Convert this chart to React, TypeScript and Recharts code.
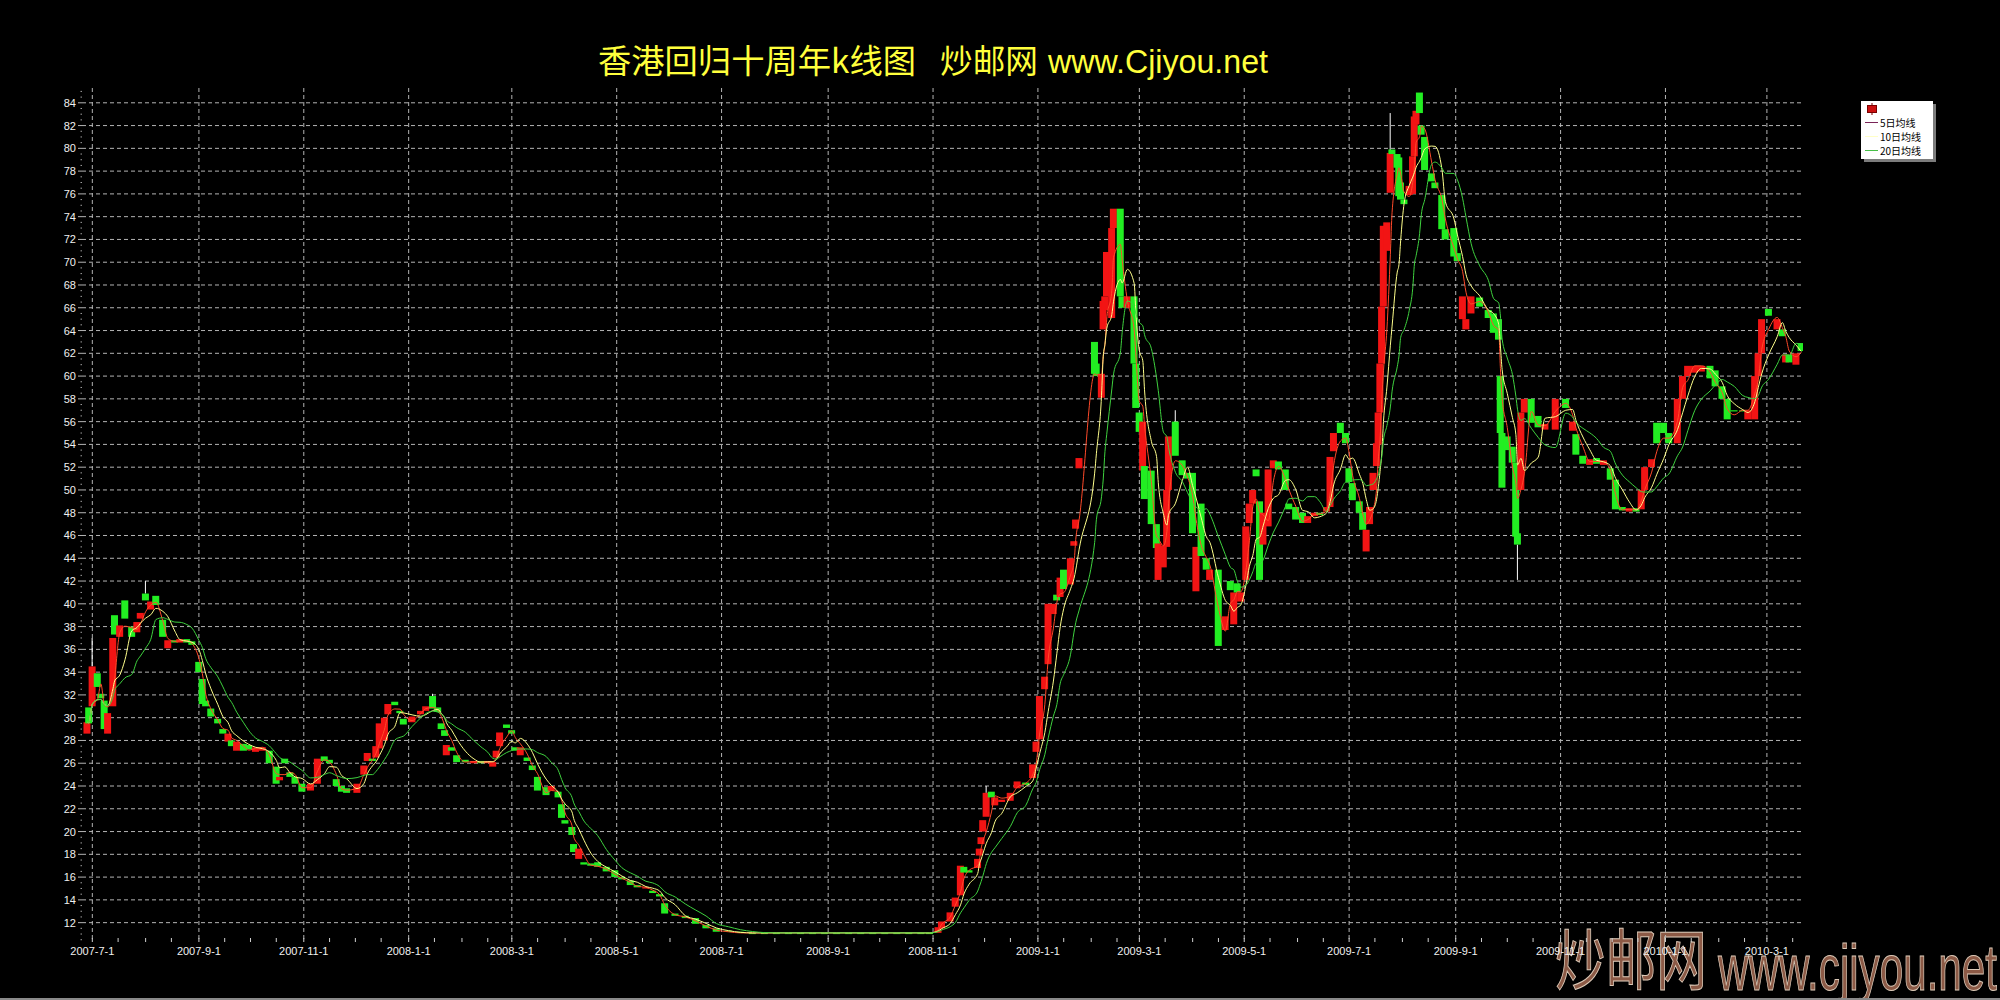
import React from 'react';
import { ComposedChart, Bar, Line, XAxis, YAxis, CartesianGrid } from 'recharts';

// ---------- data ----------
const dates: string[] = [
  // 2007-06/07
  '2007-06-28','2007-06-29','2007-07-01','2007-07-04','2007-07-06','2007-07-08','2007-07-10','2007-07-13','2007-07-14','2007-07-17','2007-07-20','2007-07-24','2007-07-27','2007-07-29',
  // 2007-08
  '2007-08-01','2007-08-04','2007-08-07','2007-08-11','2007-08-14','2007-08-18','2007-08-21','2007-08-25','2007-08-28',
  // 2007-09
  '2007-09-01','2007-09-03','2007-09-05','2007-09-08','2007-09-12','2007-09-15','2007-09-18','2007-09-20','2007-09-23','2007-09-27','2007-09-30',
  // 2007-10
  '2007-10-04','2007-10-08','2007-10-12','2007-10-16','2007-10-18','2007-10-21','2007-10-24','2007-10-27','2007-10-31',
  // 2007-11
  '2007-11-05','2007-11-09','2007-11-13','2007-11-16','2007-11-20','2007-11-23','2007-11-26',
  // 2007-12
  '2007-12-02','2007-12-06','2007-12-08','2007-12-11','2007-12-13','2007-12-15','2007-12-18','2007-12-20','2007-12-24','2007-12-27','2007-12-29',
  // 2008-01
  '2008-01-03','2008-01-08','2008-01-11','2008-01-15','2008-01-18','2008-01-20','2008-01-22','2008-01-23','2008-01-26','2008-01-29',
  // 2008-02
  '2008-02-03','2008-02-08','2008-02-12','2008-02-16','2008-02-19','2008-02-21','2008-02-23','2008-02-27',
  // 2008-03
  '2008-03-01','2008-03-03','2008-03-06','2008-03-10','2008-03-13','2008-03-16','2008-03-21','2008-03-24','2008-03-28','2008-03-30',
  // 2008-04
  '2008-04-01','2008-04-05','2008-04-06','2008-04-09','2008-04-12','2008-04-16','2008-04-20','2008-04-25','2008-04-30',
  // 2008-05
  '2008-05-04','2008-05-09','2008-05-13','2008-05-18','2008-05-22','2008-05-26','2008-05-29',
  // 2008-06
  '2008-06-04','2008-06-10','2008-06-16','2008-06-22','2008-06-28',
  // 2008-07
  '2008-07-05','2008-07-12','2008-07-19','2008-07-26',
  // 2008-08
  '2008-08-02','2008-08-09','2008-08-16','2008-08-23','2008-08-30',
  // 2008-09
  '2008-09-06','2008-09-13','2008-09-20','2008-09-27',
  // 2008-10
  '2008-10-04','2008-10-11','2008-10-18','2008-10-25','2008-10-30',
  // 2008-11
  '2008-11-04','2008-11-06','2008-11-11','2008-11-14','2008-11-17','2008-11-19','2008-11-22','2008-11-27','2008-11-28','2008-11-29','2008-11-30',
  // 2008-12
  '2008-12-02','2008-12-05','2008-12-07','2008-12-11','2008-12-16','2008-12-20','2008-12-25','2008-12-29','2008-12-31',
  // 2009-01
  '2009-01-02','2009-01-05','2009-01-07','2009-01-10','2009-01-12','2009-01-14','2009-01-16','2009-01-20','2009-01-22','2009-01-23','2009-01-25',
  // 2009-02
  '2009-02-03','2009-02-04','2009-02-07','2009-02-08','2009-02-09','2009-02-10','2009-02-13','2009-02-14','2009-02-18','2009-02-19','2009-02-22','2009-02-26','2009-02-27',
  // 2009-03
  '2009-03-01','2009-03-03','2009-03-04','2009-03-08','2009-03-11','2009-03-12','2009-03-15','2009-03-17','2009-03-18','2009-03-22','2009-03-26','2009-03-29',
  // 2009-04
  '2009-04-01','2009-04-03','2009-04-06','2009-04-09','2009-04-11','2009-04-16','2009-04-20','2009-04-23','2009-04-25','2009-04-27','2009-04-29',
  // 2009-05
  '2009-05-02','2009-05-04','2009-05-06','2009-05-08','2009-05-10','2009-05-12','2009-05-15','2009-05-18','2009-05-21','2009-05-25','2009-05-27','2009-05-31',
  // 2009-06
  '2009-06-04','2009-06-07','2009-06-11','2009-06-14','2009-06-18','2009-06-20','2009-06-22','2009-06-26','2009-06-29',
  // 2009-07
  '2009-07-01','2009-07-03','2009-07-07','2009-07-09','2009-07-11','2009-07-13','2009-07-15','2009-07-17','2009-07-18','2009-07-19','2009-07-20','2009-07-21','2009-07-23','2009-07-25','2009-07-26','2009-07-29','2009-07-30','2009-07-31',
  // 2009-08
  '2009-08-02','2009-08-05','2009-08-07','2009-08-08','2009-08-09','2009-08-11','2009-08-12','2009-08-14','2009-08-18','2009-08-20','2009-08-24','2009-08-26','2009-08-31',
  // 2009-09
  '2009-09-02','2009-09-05','2009-09-07','2009-09-10','2009-09-15','2009-09-20','2009-09-23','2009-09-26','2009-09-27','2009-09-28',
  // 2009-10
  '2009-10-01','2009-10-04','2009-10-06','2009-10-07','2009-10-09','2009-10-11','2009-10-15','2009-10-19','2009-10-23','2009-10-29',
  // 2009-11
  '2009-11-04','2009-11-08','2009-11-10','2009-11-14','2009-11-18','2009-11-22','2009-11-26','2009-11-30',
  // 2009-12
  '2009-12-03','2009-12-07','2009-12-11','2009-12-15','2009-12-18','2009-12-20','2009-12-24','2009-12-27','2009-12-31',
  // 2010-01
  '2010-01-03','2010-01-08','2010-01-11','2010-01-14','2010-01-18','2010-01-22','2010-01-27','2010-01-30',
  // 2010-02
  '2010-02-03','2010-02-06','2010-02-10','2010-02-15','2010-02-18','2010-02-22','2010-02-24','2010-02-26',
  // 2010-03
  '2010-03-02','2010-03-07','2010-03-10','2010-03-12','2010-03-14','2010-03-18','2010-03-21',
];

const opens: number[] = [
  28.6,30.9,31.0,33.9,32.1,31.5,28.6,31.0,39.0,37.1,40.3,38.0,37.5,38.7,
  40.9,39.5,40.7,38.6,36.1,36.8,36.6,36.9,36.7,
  34.9,33.4,31.5,30.8,29.9,29.0,27.9,28.0,27.1,27.7,27.6,
  27.0,27.1,27.1,25.7,24.5,26.4,25.2,24.8,24.2,
  23.6,24.2,26.6,26.3,24.6,24.0,23.8,
  23.4,25.0,26.2,26.4,26.5,27.3,28.0,30.3,31.4,30.6,29.9,
  29.6,30.3,30.6,31.9,30.9,29.5,28.9,26.7,27.4,26.7,
  26.3,26.0,26.2,26.0,25.7,26.5,27.5,29.4,
  28.9,27.4,26.7,26.5,25.8,24.8,23.9,23.6,23.5,22.4,
  21.0,20.4,18.9,17.6,17.3,17.2,17.3,16.9,16.6,
  16.0,15.7,15.3,15.0,14.8,14.5,13.7,
  12.8,12.6,12.4,11.8,11.5,
  11.3,11.2,11.1,11.1,
  11.1,11.1,11.1,11.1,11.1,
  11.1,11.1,11.1,11.1,
  11.1,11.1,11.1,11.1,11.1,
  11.1,11.5,12.1,13.4,14.4,16.9,16.6,16.8,17.9,18.9,20.0,
  21.3,23.5,22.3,22.6,22.7,23.8,24.3,24.7,27.0,
  28.1,32.5,34.7,39.1,40.8,40.6,43.0,41.7,45.1,46.6,51.9,
  63.0,61.1,58.1,64.1,65.8,67.0,65.1,73.0,74.7,67.0,66.0,67.0,61.1,
  56.8,51.7,52.1,51.7,47.0,42.1,43.2,45.0,50.0,56.0,52.6,51.5,
  51.5,41.1,48.8,44.0,42.1,43.0,37.7,42.0,38.2,41.8,40.2,
  42.1,47.1,48.8,51.8,49.0,45.2,46.8,51.9,52.5,51.8,48.8,48.5,
  48.0,47.1,47.7,48.0,48.1,48.5,53.4,55.9,55.0,
  51.9,50.6,49.0,48.0,44.6,47.0,50.0,52.1,54.0,56.8,61.1,66.1,71.0,76.1,79.9,79.5,79.2,77.0,
  75.5,75.9,76.0,79.3,82.1,84.9,82.0,81.0,77.8,77.0,75.9,72.9,73.0,
  70.8,65.0,64.1,65.5,66.9,65.8,65.5,65.0,60.0,55.0,
  54.7,53.8,52.4,46.2,50.0,56.8,58.0,56.5,55.3,55.3,
  58.0,55.2,54.9,53.0,52.2,52.8,52.2,51.9,
  50.9,48.5,48.1,48.4,48.3,50.0,52.0,55.9,55.9,
  55.0,54.1,58.0,60.0,60.3,60.4,60.9,60.5,
  59.1,58.0,57.0,57.0,56.2,56.2,60.0,62.0,
  65.9,64.1,64.1,61.2,61.9,61.0,62.9,
];

const closes: number[] = [
  29.6,29.5,34.5,32.7,31.7,29.0,30.4,37.0,37.3,38.1,38.7,37.1,38.4,39.2,
  40.3,40.2,39.9,37.1,36.8,36.6,36.9,36.6,36.4,
  34.0,31.2,31.0,30.1,29.5,28.6,28.6,27.5,27.9,27.1,27.2,
  27.4,27.4,26.0,24.2,24.8,26.0,24.8,24.2,23.5,
  24.2,26.4,26.2,26.0,24.0,23.5,23.4,
  24.2,25.8,26.9,26.2,27.5,29.5,30.0,31.2,31.1,30.4,29.4,
  30.1,30.6,31.0,30.8,30.5,29.0,28.4,27.6,27.1,26.1,
  26.1,26.2,26.0,26.2,26.1,27.1,28.7,29.1,
  28.6,27.1,27.4,26.2,25.4,23.6,23.2,24.0,23.0,21.2,
  20.7,19.7,18.2,18.5,17.1,17.0,16.9,16.5,16.0,
  15.8,15.3,15.1,15.1,14.6,14.3,12.8,
  12.6,12.4,11.9,11.5,11.2,
  11.2,11.1,11.1,11.1,
  11.1,11.1,11.1,11.1,11.1,
  11.1,11.1,11.1,11.1,
  11.1,11.1,11.1,11.1,11.1,
  11.6,12.1,12.9,14.2,17.0,16.4,16.4,17.6,18.5,19.5,21.0,
  23.4,23.0,23.0,22.8,23.4,24.4,24.1,25.9,27.9,
  31.9,33.6,40.0,40.0,40.3,42.3,41.3,44.0,45.5,47.4,52.8,
  60.2,60.0,60.2,66.6,67.0,70.9,73.0,74.7,67.0,66.0,67.0,61.1,57.2,
  55.1,56.0,49.2,47.0,44.9,45.3,45.1,50.0,54.7,53.0,51.3,51.0,
  46.2,45.0,44.2,43.0,43.0,36.3,38.9,41.2,41.0,41.0,41.0,
  46.8,48.8,50.0,51.2,42.1,48.0,51.8,52.6,51.8,50.0,48.3,47.4,
  47.1,47.7,48.0,47.8,48.5,52.9,55.0,55.0,54.1,
  50.7,49.1,48.0,46.5,46.5,48.5,51.5,54.1,56.8,61.1,66.1,73.2,73.5,79.6,79.5,78.3,75.8,75.5,
  75.1,76.7,79.3,82.8,83.3,83.1,81.2,78.1,77.1,76.5,72.9,72.0,70.5,
  70.1,67.0,65.0,67.0,66.1,65.1,63.8,63.2,55.0,50.2,
  53.5,52.4,45.9,45.2,56.8,58.0,55.9,55.5,55.8,58.0,
  57.2,56.0,53.1,52.3,52.7,52.3,52.6,50.9,
  48.3,48.2,48.4,48.1,50.0,52.0,52.7,54.1,55.0,
  54.1,58.0,60.0,60.9,60.9,60.9,59.8,59.1,
  58.0,56.2,57.0,57.0,57.0,60.0,62.0,65.0,
  65.3,65.0,63.5,61.9,61.2,62.0,62.2,
];

const wickHighDates = ['2007-07-01', '2007-08-01', '2008-01-15', '2008-12-02', '2009-03-22', '2009-07-25'];
const wickHighValues = [37.0, 42.0, 32.1, 24.0, 57.0, 83.1];
const wickLowDates = ['2009-10-07'];
const wickLowValues = [42.1];

const xTickLabels = [
  '2007-7-1','2007-9-1','2007-11-1','2008-1-1','2008-3-1','2008-5-1','2008-7-1','2008-9-1','2008-11-1',
  '2009-1-1','2009-3-1','2009-5-1','2009-7-1','2009-9-1','2009-11-1','2010-1-1','2010-3-1',
];
const yTickLabels = [12,14,16,18,20,22,24,26,28,30,32,34,36,38,40,42,44,46,48,50,52,54,56,58,60,62,64,66,68,70,72,74,76,78,80,82,84];

const seriesNames = ['5日均线', '10日均线', '20日均线'];
const maWindowDays = [7, 14, 28]; // 5 / 10 / 20 trading days expressed in calendar days

// ---------- styles ----------
const RED = '#f21414';
const GREEN = '#22ee22';
const MA_COLORS = ['#ff4a2a', '#ffff8c', '#3fd23f'];
const LEGEND_COLORS = ['#7a2458', '#ffffc8', '#48c048'];
const GRID = '#b4b4b4';
const LATIN = "'Liberation Sans', Arial, sans-serif";
const CJK = "'Noto Sans CJK SC', 'Noto Sans', sans-serif";

const toDay = (s: string) => {
  const [y, m, d] = s.split('-').map(Number);
  return Date.UTC(y, m - 1, d) / 86400000;
};

const n = Math.min(dates.length, opens.length, closes.length);
const rows: any[] = [];
for (let i = 0; i < n; i++) {
  const o = opens[i];
  const c = closes[i];
  let hi = Math.max(o, c);
  let lo = Math.min(o, c);
  const wh = wickHighDates.indexOf(dates[i]);
  if (wh >= 0) hi = Math.max(hi, wickHighValues[wh]);
  const wl = wickLowDates.indexOf(dates[i]);
  if (wl >= 0) lo = Math.min(lo, wickLowValues[wl]);
  rows.push({ t: toDay(dates[i]), o, c, hi, lo, range: [lo - 0.05, hi + 0.05] });
}
const maKeys = ['ma5', 'ma10', 'ma20'];
rows.forEach((r, i) => {
  maWindowDays.forEach((w, k) => {
    let s = 0;
    let cnt = 0;
    for (let j = i; j >= 0 && rows[j].t > r.t - w; j--) {
      s += rows[j].c;
      cnt++;
    }
    r[maKeys[k]] = s / cnt;
  });
});

const domainStart = toDay('2007-06-25');
const domainEnd = toDay('2010-03-22');
const yDomain: [number, number] = [10.3, 85.3];

const labelByDay: Record<number, string> = {};
xTickLabels.forEach((l) => {
  labelByDay[toDay(l)] = l;
});
const labeledTicks = Object.keys(labelByDay).map(Number).sort((a, b) => a - b);
const minorTicks: number[] = [];
for (let y = 2007; y <= 2010; y++) {
  for (let m = 1; m <= 12; m++) {
    [1, 16].forEach((d) => {
      const t = Date.UTC(y, m - 1, d) / 86400000;
      if (t >= toDay('2007-07-01') && t <= toDay('2010-03-16')) minorTicks.push(t);
    });
  }
}
const halfTicks: number[] = [];
for (let v = 10.5; v <= 85.01; v += 0.5) halfTicks.push(Math.round(v * 10) / 10);

// grid line positions come from the axes' own scales
const verticalGen = (p: any) => {
  const sc = p && p.xAxis && p.xAxis.scale;
  if (typeof sc === 'function') return labeledTicks.map((t) => sc(t));
  const o = p.offset;
  return labeledTicks.map((t) => o.left + ((t - domainStart) / (domainEnd - domainStart)) * o.width);
};
const horizontalGen = (p: any) => {
  const sc = p && p.yAxis && p.yAxis.scale;
  if (typeof sc === 'function') return yTickLabels.map((v) => sc(v));
  const o = p.offset;
  return yTickLabels.map((v) => o.top + ((yDomain[1] - v) / (yDomain[1] - yDomain[0])) * o.height);
};

// ---------- renderers ----------
const Candle = (props: any) => {
  const { x, y, width, height, payload } = props;
  if (x == null || y == null || !payload) return null;
  const [rLo, rHi] = payload.range;
  const top = Math.min(y, y + height);
  const h = Math.abs(height);
  const py = (v: number) => top + ((rHi - v) / (rHi - rLo)) * h;
  const cx = x + width / 2;
  const up = payload.c > payload.o;
  const bTop = py(Math.max(payload.o, payload.c));
  const bBot = py(Math.min(payload.o, payload.c));
  const bh = Math.max(1.2, bBot - bTop);
  const color = up ? RED : GREEN;
  return (
    <g>
      {payload.hi > Math.max(payload.o, payload.c) + 0.01 && (
        <line x1={cx} x2={cx} y1={py(payload.hi)} y2={bTop} stroke="#ffffff" strokeWidth={1} />
      )}
      {payload.lo < Math.min(payload.o, payload.c) - 0.01 && (
        <line x1={cx} x2={cx} y1={bBot} y2={py(payload.lo)} stroke="#ffffff" strokeWidth={1} />
      )}
      <rect x={cx - 3.5} y={bTop} width={7} height={bh} fill={color} />
    </g>
  );
};

const XTick = (props: any) => {
  const { x, y, payload } = props;
  const label = labelByDay[payload.value];
  return (
    <g>
      <line x1={x} x2={x} y1={y - 4} y2={y} stroke="#d0d0d0" strokeWidth={1} />
      {label && (
        <text x={x} y={y + 13} textAnchor="middle" fill="#f0f0f0" fontSize={11} fontFamily={LATIN}>
          {label}
        </text>
      )}
    </g>
  );
};

const YTick = (props: any) => {
  const { x, y, payload } = props;
  const v = payload.value;
  if (yTickLabels.indexOf(v) >= 0) {
    return (
      <g>
        <line x1={x - 4} x2={x} y1={y} y2={y} stroke={GRID} strokeWidth={1} />
        <text x={x - 6} y={y + 4} textAnchor="end" fill="#f0f0f0" fontSize={11} fontFamily={LATIN}>
          {v}
        </text>
      </g>
    );
  }
  return <line x1={x - 1.5} x2={x} y1={y} y2={y} stroke="#a0a0a0" strokeWidth={1} />;
};

const LegendBox = () => (
  <svg width={78} height={64} style={{ position: 'absolute', left: 1861, top: 101 }}>
    <rect x={3} y={3} width={72} height={58} fill="#7c7c7c" />
    <rect x={0} y={0} width={72} height={58} fill="#ffffff" />
    <line x1={11} x2={11} y1={2} y2={14} stroke="#7a0000" strokeWidth={1} />
    <rect x={6.5} y={4.5} width={9} height={7} fill="#cc1010" stroke="#7a0000" strokeWidth={1} />
    {seriesNames.map((name, i) => (
      <g key={name}>
        <line x1={4} x2={17} y1={21.5 + i * 14} y2={21.5 + i * 14} stroke={LEGEND_COLORS[i]} strokeWidth={1} />
        <text x={19} y={25.5 + i * 14} fontSize={10} fontFamily={CJK} fill="#000000">
          {name}
        </text>
      </g>
    ))}
  </svg>
);

export default function App() {
  return (
    <div style={{ position: 'absolute', left: 0, top: 0, width: 2000, height: 1000, background: '#000', overflow: 'hidden' }}>
      {/* watermark (below chart) */}
      <svg width={2000} height={1000} style={{ position: 'absolute', left: 0, top: 0 }}>
        <text x={1555} y={984} fontFamily={CJK} fontSize={66} textLength={152} lengthAdjust="spacingAndGlyphs"
          fill="#8c5a46" stroke="#dccab8" strokeWidth={1}>炒邮网</text>
        <text x={1718} y={990} fontFamily={LATIN} fontSize={64} textLength={279} lengthAdjust="spacingAndGlyphs"
          fill="#8c5a46" stroke="#dccab8" strokeWidth={1}>www.cjiyou.net</text>
      </svg>
      <div style={{ position: 'absolute', left: 0, top: 0 }}>
        <ComposedChart width={2000} height={1000} data={rows} margin={{ top: 88, right: 197, bottom: 28, left: 0 }}>
          <XAxis dataKey="t" type="number" domain={[domainStart, domainEnd]} allowDataOverflow
            ticks={minorTicks} interval={0} tick={(p: any) => <XTick {...p} />} tickLine={false} axisLine={false}
            tickSize={0} tickMargin={0} height={30} />
          <YAxis type="number" domain={yDomain} allowDataOverflow ticks={halfTicks} interval={0}
            tick={(p: any) => <YTick {...p} />} tickLine={false} axisLine={false} tickSize={0} tickMargin={0} width={82} />
          <CartesianGrid stroke={GRID} strokeDasharray="4 3"
            verticalCoordinatesGenerator={verticalGen} horizontalCoordinatesGenerator={horizontalGen} />
          <Bar dataKey="range" isAnimationActive={false} shape={(p: any) => <Candle {...p} />} />
          {maKeys.map((k, i) => (
            <Line key={k} dataKey={k} name={seriesNames[i]} type="monotone"
              stroke={MA_COLORS[i]} strokeWidth={1} dot={false} activeDot={false} isAnimationActive={false} />
          ))}
        </ComposedChart>
      </div>
      {/* title */}
      <svg width={2000} height={100} style={{ position: 'absolute', left: 0, top: 0 }}>
        <text x={598} y={73} fontFamily={CJK} fontSize={33} fill="#ffff3c" textLength={318} lengthAdjust="spacingAndGlyphs">香港回归十周年k线图</text>
        <text x={940} y={73} fontFamily={CJK} fontSize={33} fill="#ffff3c" textLength={98} lengthAdjust="spacingAndGlyphs">炒邮网</text>
        <text x={1048} y={73} fontFamily={LATIN} fontSize={33} fill="#ffff3c" textLength={220} lengthAdjust="spacingAndGlyphs">www.Cjiyou.net</text>
      </svg>
      <LegendBox />
      <div style={{ position: 'absolute', left: 0, top: 998, width: 2000, height: 2, background: '#8a8a8a' }} />
    </div>
  );
}
